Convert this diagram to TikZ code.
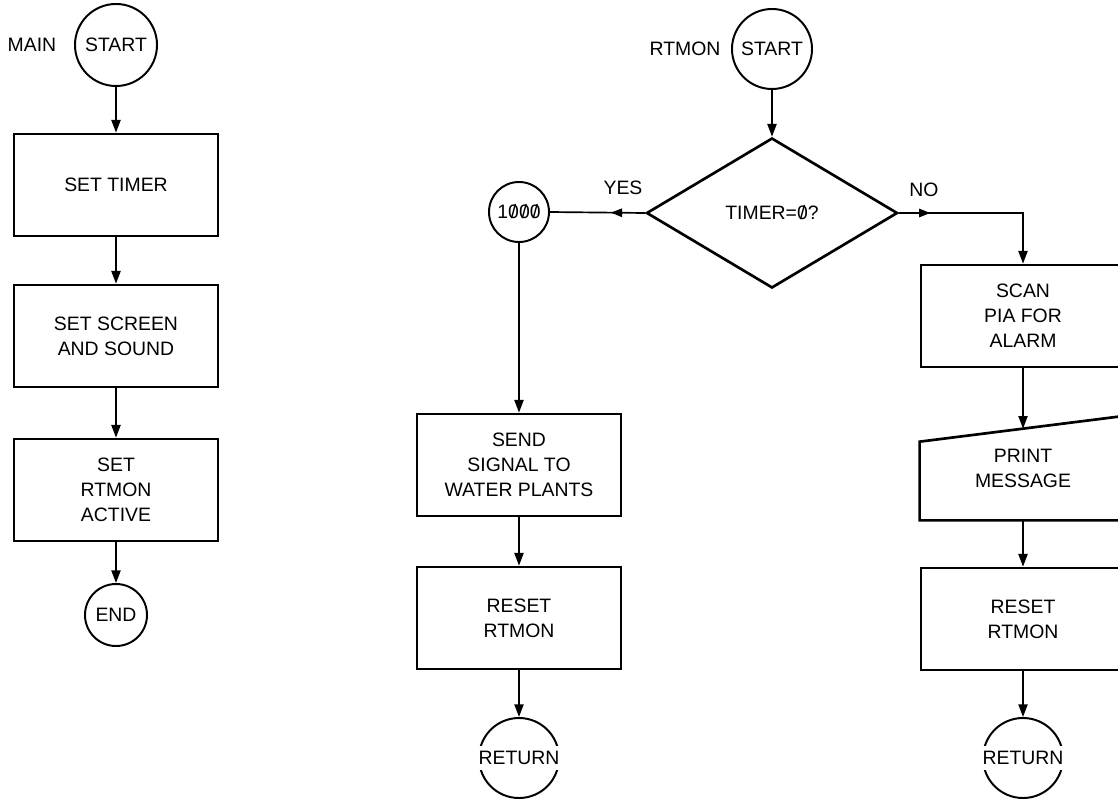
\documentclass[tikz,border=0pt]{standalone}
\usepackage{fontspec}
\setmainfont{Liberation Sans}
\usetikzlibrary{arrows.meta,shapes.geometric,decorations.markings}
\newcommand{\slz}{\ooalign{0\cr\hidewidth/\hidewidth\cr}}
\begin{document}
\begin{tikzpicture}[x=0.025cm,y=-0.025cm,
  every node/.style={font=\fontsize{13.8}{17.8}\selectfont, align=center},
  box/.style={draw, line width=1.9pt, minimum width=5.1cm, minimum height=2.55cm, inner sep=0pt},
  term/.style={draw, circle, line width=1.4pt, inner sep=0pt},
  conn/.style={line width=1.2pt, -{Triangle[length=9pt,width=6.5pt]}},
  midarrow/.style={postaction={decorate}, decoration={markings, mark=at position #1 with {\arrow{Triangle[length=8pt,width=6pt]}}}},
  cut/.style={fill=white, inner xsep=2pt, inner ysep=3.5pt}
]
\useasboundingbox (0,0) rectangle (1118,801);
\clip (0,0) rectangle (1118,801);

% ---------- MAIN ----------
\node (mainlbl) at (32,45) {MAIN};
\node[term, minimum size=2.05cm] (mstart) at (116,45) {START};
\node[box] (b1) at (116,185) {SET TIMER};
\node[box] (b2) at (116,336) {SET SCREEN\\AND SOUND};
\node[box] (b3) at (116,490) {SET\\RTMON\\ACTIVE};
\node[term, minimum size=1.55cm] (mend) at (116,615) {END};

\draw[conn] (mstart) -- (b1);
\draw[conn] (b1) -- (b2);
\draw[conn] (b2) -- (b3);
\draw[conn] (b3) -- (mend);

% ---------- RTMON ----------
\node (rtlbl) at (685,49) {RTMON};
\node[term, minimum size=2cm] (rstart) at (772,49) {START};
\node[draw, diamond, line width=1.9pt, minimum width=6.275cm, minimum height=3.75cm,
      aspect=1.67, inner sep=0pt] (dec) at (772,213) {TIMER=\slz?};
\node (yes) at (623,188) {YES};
\node (no) at (924,190) {NO};

\node[term, minimum size=1.5cm] (c1000) at (519,212) {1\slz\slz\slz};
\node[box] (send) at (519,465) {SEND\\SIGNAL TO\\WATER PLANTS};
\node[box] (resetL) at (519,618) {RESET\\RTMON};
\node[term, minimum size=2cm, label={[cut]center:RETURN}] (retL) at (519,758) {};

\node[box] (scan) at (1023,316) {SCAN\\PIA FOR\\ALARM};
\node[box, draw=none] (print) at (1023,468) {PRINT\\MESSAGE};
\draw[line width=1.9pt] ([yshift=-0.65cm]print.north west) -- (print.north east)
  -- (print.south east) -- (print.south west) -- cycle;
\coordinate (pin) at ([yshift=-0.325cm]print.north);
\node[box] (resetR) at (1023,619) {RESET\\RTMON};
\node[term, minimum size=2cm, label={[cut]center:RETURN}] (retR) at (1023,758) {};

\draw[conn] (rstart) -- (dec.north);
\draw[line width=1.2pt, midarrow=0.36] (dec.west) -- (c1000.east);
\draw[conn, midarrow=0.18] (dec.east) -| (scan.north);
\draw[conn] (c1000) -- (send);
\draw[conn] (send) -- (resetL);
\draw[conn] (resetL) -- (retL);
\draw[conn] (scan) -- (pin);
\draw[conn] (print.south) -- (resetR);
\draw[conn] (resetR) -- (retR);
\end{tikzpicture}
\end{document}
